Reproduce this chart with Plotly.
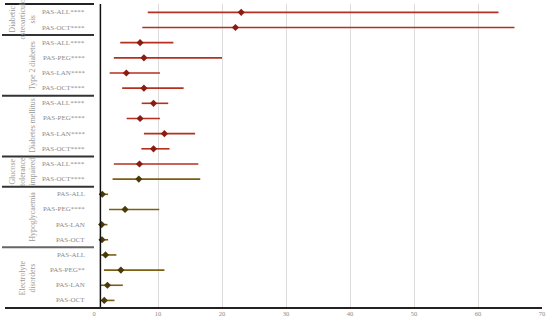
import plotly.graph_objects as go

# rows from top to bottom
row_labels = ['PAS-ALL****', 'PAS-OCT****',
              'PAS-ALL****', 'PAS-PEG****', 'PAS-LAN****', 'PAS-OCT****',
              'PAS-ALL****', 'PAS-PEG****', 'PAS-LAN****', 'PAS-OCT****',
              'PAS-ALL****', 'PAS-OCT****',
              'PAS-ALL', 'PAS-PEG****', 'PAS-LAN', 'PAS-OCT',
              'PAS-ALL', 'PAS-PEG**', 'PAS-LAN', 'PAS-OCT']
ror = [23.0, 22.1,
       7.2, 7.8, 5.05, 7.8,
       9.3, 7.2, 11.0, 9.3,
       7.1, 7.0,
       1.3, 4.85, 1.2, 1.25,
       1.8, 4.2, 2.1, 1.6]
ci_low = [8.4, 7.55,
          4.1, 3.1, 2.45, 4.4,
          7.45, 5.1, 7.8, 7.4,
          3.1, 2.9,
          0.9, 2.35, 0.8, 0.8,
          1.1, 1.55, 1.05, 0.95]
ci_high = [63.2, 65.7,
           12.4, 20.0, 10.3, 14.0,
           11.6, 10.3, 15.8, 11.8,
           16.3, 16.6,
           2.2, 10.2, 2.1, 2.2,
           3.5, 11.0, 4.5, 3.2]
groups = ['Diabetic<br>osteoarticulo<br>sis', 'Type 2 diabetes', 'Diabetes mellitus',
          'Glucose<br>tolerance<br>impaired', 'Hypoglycaemia', 'Electrolyte<br>disorders']
group_sizes = [2, 4, 4, 2, 4, 4]
x_ticks = [0, 10, 20, 30, 40, 50, 60, 70]

red_rows = 11
font = 'Liberation Serif'
grey = '#8a8a8a'

fig = go.Figure()
parts = [(0, red_rows, '#b5301f', '#8a1c10'),
         (red_rows, len(ror), '#7d5f14', '#4a3a0a')]
for a, b, lc, mc in parts:
    ys = list(range(a, b))
    fig.add_trace(go.Scatter(
        x=ror[a:b], y=ys, mode='markers',
        marker=dict(symbol='diamond', size=5.5, color=mc),
        error_x=dict(type='data', symmetric=False,
                     array=[h - r for h, r in zip(ci_high[a:b], ror[a:b])],
                     arrayminus=[r - l for r, l in zip(ror[a:b], ci_low[a:b])],
                     color=lc, thickness=1.6, width=0),
        showlegend=False, cliponaxis=False, hoverinfo='skip'))

L, R, T, B = 94, 8, 4, 17
W, H = 550, 325
pw = W - L - R


def px(xp):
    return (xp - L) / pw


shapes = []
# reference line at 1
shapes.append(dict(type='line', xref='x', yref='paper', x0=1, x1=1, y0=0, y1=1,
                   line=dict(color='#111111', width=1.5)))
# bottom axis line extended to the left
shapes.append(dict(type='line', xref='paper', yref='paper', x0=px(5), x1=1, y0=0, y1=0,
                   line=dict(color='#222222', width=2)))
# top line
shapes.append(dict(type='line', xref='paper', yref='paper', x0=px(5), x1=0, y0=1, y1=1,
                   line=dict(color='#222222', width=2)))

annotations = []
start = 0
for gi, (g, n) in enumerate(zip(groups, group_sizes)):
    if start > 0:
        shapes.append(dict(type='line', xref='paper', yref='y', x0=px(2), x1=0,
                           y0=start - 0.5, y1=start - 0.5,
                           line=dict(color='#333333' if gi != 5 else '#666666', width=2)))
    annotations.append(dict(text=g, xref='paper', yref='y', x=px(39),
                            y=start + (n - 1) / 2, xanchor='right', yanchor='middle',
                            textangle=-90, showarrow=False,
                            font=dict(family=font, size=7.8, color='#9a9a9a')))
    start += n

for i, lab in enumerate(row_labels):
    annotations.append(dict(text=lab, xref='paper', yref='y', x=px(87), y=i,
                            xanchor='right', yanchor='middle', showarrow=False,
                            font=dict(family=font, size=7, color=grey)))

fig.update_layout(
    width=W, height=H,
    margin=dict(l=L, r=R, t=T, b=B),
    paper_bgcolor='white', plot_bgcolor='white',
    shapes=shapes, annotations=annotations,
    xaxis=dict(range=[0, 70], tickvals=x_ticks, showgrid=True, gridcolor='#dcdcdc',
               gridwidth=1, zeroline=False, showline=False, automargin=False,
               tickfont=dict(family=font, size=6.5, color=grey), ticks=''),
    yaxis=dict(range=[19.5, -0.55], showgrid=False, zeroline=False, showticklabels=False,
               showline=False),
)

fig.write_html('out.html', config={'displayModeBar': False},
               post_script="document.body.style.margin='0px';")
